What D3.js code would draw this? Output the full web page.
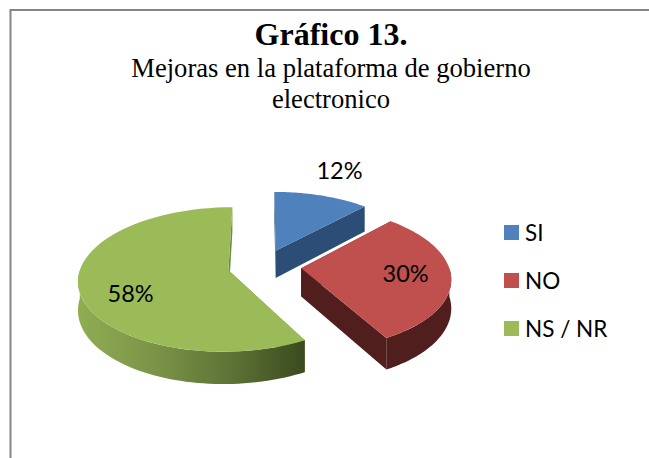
<!DOCTYPE html>
<html>
<head>
<meta charset="utf-8">
<script src="https://cdn.jsdelivr.net/npm/d3@7"></script>
<style>
  html, body { margin: 0; padding: 0; background: #fff; }
  svg { display: block; }
</style>
</head>
<body>
<svg id="chart" width="649" height="458"></svg>
<script>
const categories = ['SI', 'NO', 'NS / NR']
const values = [12, 30, 58]
const colors = ['#4f81bd', '#c0504d', '#9bbb59']
const wallColors = ['#2c4d75', '#4f1e1d', '#5f7535']

const width = 649, height = 458
const svg = d3.select('#chart').attr('viewBox', [0, 0, width, height])

// frame, open on the right and at the bottom
svg.append('path')
  .attr('d', d3.line()([[10.5, height], [10.5, 10], [width, 10]]))
  .attr('fill', 'none')
  .attr('stroke', '#868686')
  .attr('stroke-width', 2)

svg.append('text')
  .attr('x', 331).attr('y', 45)
  .attr('text-anchor', 'middle')
  .style('font', 'bold 32px "Liberation Serif"')
  .text('Gráfico 13.')

svg.selectAll('.sub')
  .data(['Mejoras en la plataforma de gobierno', 'electronico'])
  .join('text')
  .attr('class', 'sub')
  .attr('x', 331)
  .attr('y', (d, i) => 77 + i * 31)
  .attr('text-anchor', 'middle')
  .style('font', '26.6px "Liberation Serif"')
  .text(d => d)

// pie with a simple perspective: v is depth, +1 nearest to the viewer
const cx = 263, cy = 266, rx = 147.5, ry = 70, persp = 0.127
const thickness = 28
const explode = [0.24, 0.26, 0.24]

function project(angle, r, d) {
  const u = r * Math.sin(angle) + explode[d.index] * Math.sin(d.mid)
  const v = -r * Math.cos(angle) - explode[d.index] * Math.cos(d.mid)
  const s = 1 / (1 - persp * v)
  return { x: cx + rx * u * s, y: cy + ry * v * s, s }
}

const color = d3.scaleOrdinal().domain(categories).range(colors)
const wall = d3.scaleOrdinal().domain(categories).range(wallColors)

const arcs = d3.pie().sort(null)(values).map((d, i) => ({ ...d, name: categories[i] }))
arcs.forEach(d => { d.mid = (d.startAngle + d.endAngle) / 2 })

const line = d3.line().x(p => p.x).y(p => p.y)
const down = p => ({ x: p.x, y: p.y + thickness * p.s })

function rim(d, a0, a1) {
  return d3.range(0, 61).map(i => project(a0 + (a1 - a0) * i / 60, 1, d))
}

const defs = svg.append('defs')
const grad = defs.append('linearGradient')
  .attr('id', 'greenWall')
  .attr('gradientUnits', 'userSpaceOnUse')
  .attr('x1', 77).attr('x2', 305).attr('y1', 0).attr('y2', 0)
grad.append('stop').attr('offset', 0).attr('stop-color', '#90ad54')
grad.append('stop').attr('offset', 0.35).attr('stop-color', '#7a9347')
grad.append('stop').attr('offset', 0.7).attr('stop-color', '#5b7034')
grad.append('stop').attr('offset', 1).attr('stop-color', '#3b4a1f')

const pieG = svg.append('g')

arcs.forEach((d, i) => {
  const g = pieG.append('g').attr('class', 'slice')
  const apex = project(0, 0, d)

  // straight cut walls
  ;[d.startAngle, d.endAngle].forEach(a => {
    const p = project(a, 1, d)
    g.append('path')
      .attr('d', line([apex, p, down(p), down(apex)]) + 'Z')
      .attr('fill', i === 2 ? '#6f8a3f' : wall(d.name))
  })

  // outer wall, only the near half of the circle shows
  const a0 = Math.max(d.startAngle, Math.PI / 2)
  const a1 = Math.min(d.endAngle, Math.PI * 1.5)
  if (a1 > a0) {
    const top = rim(d, a0, a1)
    g.append('path')
      .attr('d', line(top.concat(top.map(down).reverse())) + 'Z')
      .attr('fill', i === 2 ? 'url(#greenWall)' : wall(d.name))
  }

  // top face
  g.append('path')
    .attr('d', line([apex].concat(rim(d, d.startAngle, d.endAngle))) + 'Z')
    .attr('fill', color(d.name))
})

const labelRadius = [1.45, 0.7, 0.66]
const labelShift = [-4, -1, 12]
svg.selectAll('.pct')
  .data(arcs)
  .join('text')
  .attr('class', 'pct')
  .attr('x', d => project(d.mid, labelRadius[d.index], d).x)
  .attr('y', d => project(d.mid, labelRadius[d.index], d).y + labelShift[d.index])
  .attr('dy', '0.35em')
  .attr('text-anchor', 'middle')
  .style('font', '23.5px Lato')
  .text(d => d.value + '%')

// legend
const legendY = d3.scalePoint().domain(categories).range([232.5, 328.5])
const legend = svg.selectAll('.legend')
  .data(categories)
  .join('g')
  .attr('class', 'legend')
  .attr('transform', d => `translate(504,${legendY(d)})`)
legend.append('rect')
  .attr('y', -7.5)
  .attr('width', 15).attr('height', 15)
  .attr('fill', d => color(d))
legend.append('text')
  .attr('x', 21)
  .attr('dy', '0.36em')
  .style('font', '22.5px Lato')
  .text(d => d)
</script>
</body>
</html>
